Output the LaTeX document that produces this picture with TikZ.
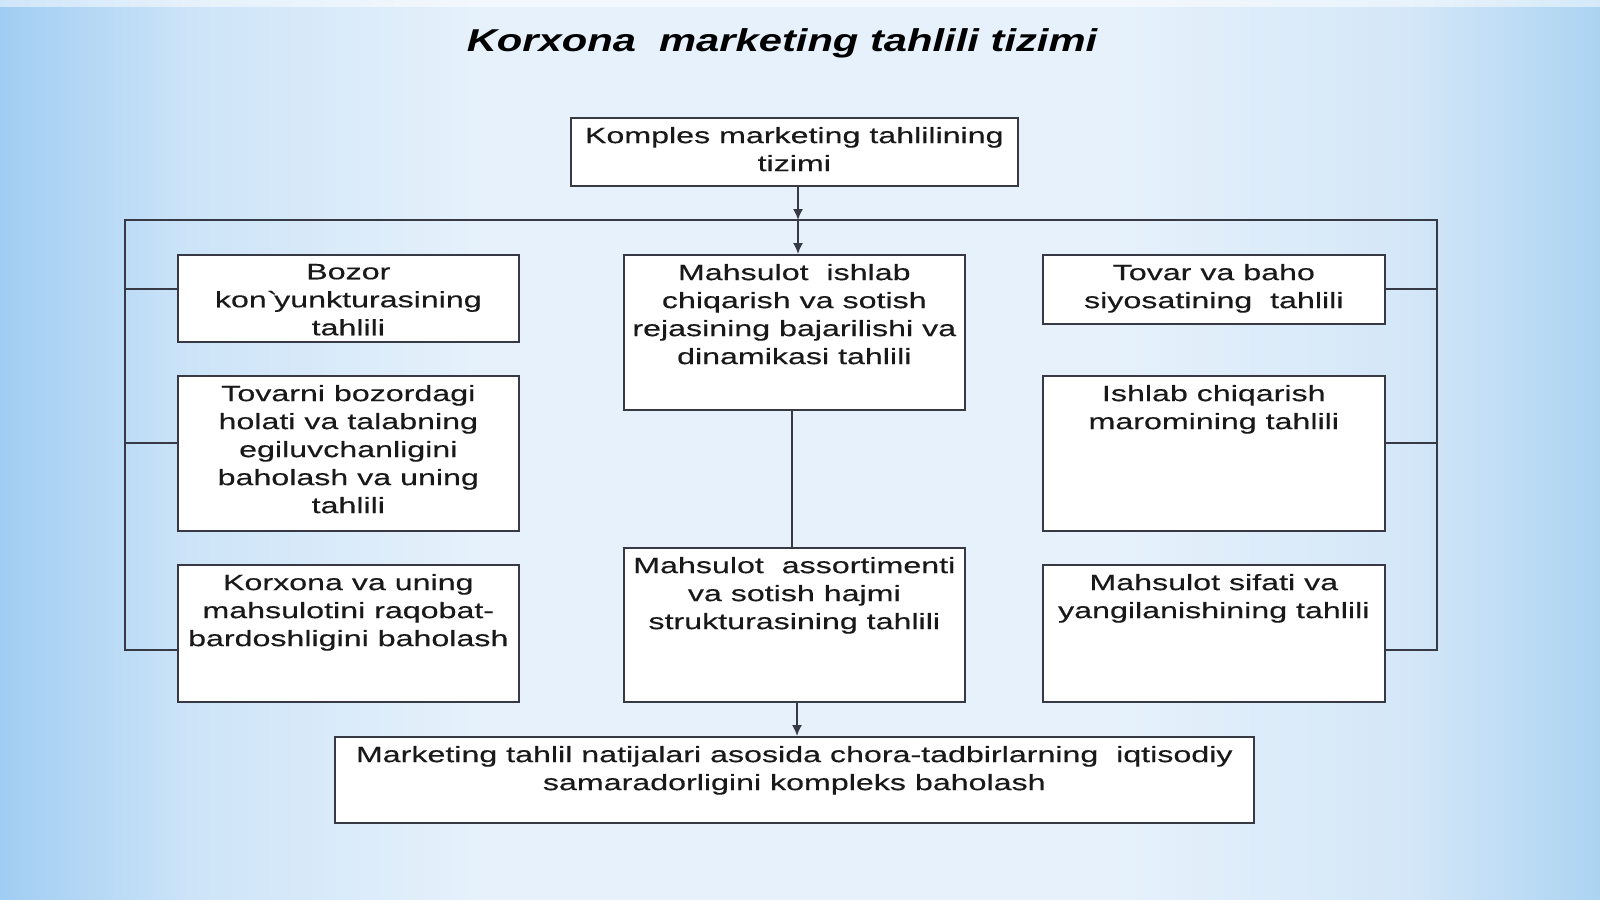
\documentclass[tikz,border=0pt]{standalone}
\usepackage{fontspec}
\setmainfont[FakeStretch=1.45,FakeBold=0.35]{Liberation Sans}
\newfontfamily\titlefont[FakeStretch=1.32]{Liberation Sans}
\usetikzlibrary{arrows.meta}
\definecolor{bgL}{RGB}{160,205,243}
\definecolor{bgA}{RGB}{205,228,248}
\definecolor{bgM}{RGB}{230,241,251}
\definecolor{bgB}{RGB}{212,231,248}
\definecolor{bgR}{RGB}{172,212,242}
\definecolor{ln}{RGB}{55,58,68}
\definecolor{tx}{RGB}{25,25,25}
\pgfdeclarehorizontalshading{bgsh}{100bp}{color(0bp)=(bgL); color(25bp)=(bgL); color(31bp)=(bgA); color(40bp)=(bgM); color(60bp)=(bgM); color(69bp)=(bgB); color(75bp)=(bgR); color(100bp)=(bgR)}
\newcommand{\bxt}[3]{\parbox[c][#2][t]{#1}{\centering\vspace*{4.6pt}#3\par}}
\tikzset{
  x=0.5pt, y=-0.5pt,
  box/.style={draw=ln, line width=0.8pt, fill=white, inner sep=0pt, anchor=north west,
    font=\fontsize{11.1}{14}\selectfont, text=tx},
  wire/.style={draw=ln, line width=0.8pt},
  arr/.style={wire, -{Latex[length=5.5pt,width=5pt]}}
}
\begin{document}
\begin{tikzpicture}
\useasboundingbox (0,0) rectangle (1600,899);
\shade[shading=bgsh] (0,0) rectangle (1600,899);
\fill[white, opacity=0.5] (0,0) rectangle (1600,7);

\node[font=\titlefont\fontsize{15.8}{18}\selectfont\bfseries\itshape, text=black] (title) at (782,43) {Korxona\ \ marketing tahlili tizimi};

\node[box] (top) at (570,117) {\bxt{223.5pt}{34pt}{Komples marketing tahlilining\\ tizimi}};

\node[box] (L1) at (177,254) {\bxt{170.5pt}{43.5pt}{Bozor\\ kon\textasciigrave yunkturasining\\ tahlili}};
\node[box] (L2) at (177,375) {\bxt{170.5pt}{77.5pt}{Tovarni bozordagi\\ holati va talabning\\ egiluvchanligini\\ baholash va uning\\ tahlili}};
\node[box] (L3) at (177,564) {\bxt{170.5pt}{68.5pt}{Korxona va uning\\ mahsulotini raqobat-\\ bardoshligini baholash}};

\node[box] (C1) at (623,254) {\bxt{170.5pt}{77.5pt}{Mahsulot\ \ ishlab\\ chiqarish va sotish\\ rejasining bajarilishi va\\ dinamikasi tahlili}};
\node[box] (C2) at (623,547) {\bxt{170.5pt}{77pt}{Mahsulot\ \ assortimenti\\ va sotish hajmi\\ strukturasining tahlili}};

\node[box] (R1) at (1042,254) {\bxt{171pt}{34.5pt}{Tovar va baho\\ siyosatining\ \ tahlili}};
\node[box] (R2) at (1042,375) {\bxt{171pt}{77.5pt}{Ishlab chiqarish\\ maromining tahlili}};
\node[box] (R3) at (1042,564) {\bxt{171pt}{68.5pt}{Mahsulot sifati va\\ yangilanishining tahlili}};

\node[box] (B) at (334,736) {\bxt{459.5pt}{43pt}{Marketing tahlil natijalari asosida chora-tadbirlarning\ \ iqtisodiy\\ samaradorligini kompleks baholash}};

\coordinate (j) at (798,220);
\coordinate (bl) at (125,220);
\coordinate (br) at (1437,220);
\coordinate (l1) at (177,289);
\coordinate (l2) at (177,443);
\coordinate (l3) at (177,650);
\coordinate (r1) at (1384,289);
\coordinate (r2) at (1384,443);
\coordinate (r3) at (1384,650);

\draw[wire] (l3) -| (bl) -- (br) |- (r3);
\draw[wire] (bl |- l1) -- (l1);
\draw[wire] (bl |- l2) -- (l2);
\draw[wire] (br |- r1) -- (r1);
\draw[wire] (br |- r2) -- (r2);

\draw[arr] (top.south -| j) -- (j);
\draw[arr] (j) -- (C1.north -| j);
\draw[wire] (C1.south -| 792,0) -- (C2.north -| 792,0);
\draw[arr] (C2.south -| 797,0) -- (B.north -| 797,0);
\end{tikzpicture}
\end{document}
